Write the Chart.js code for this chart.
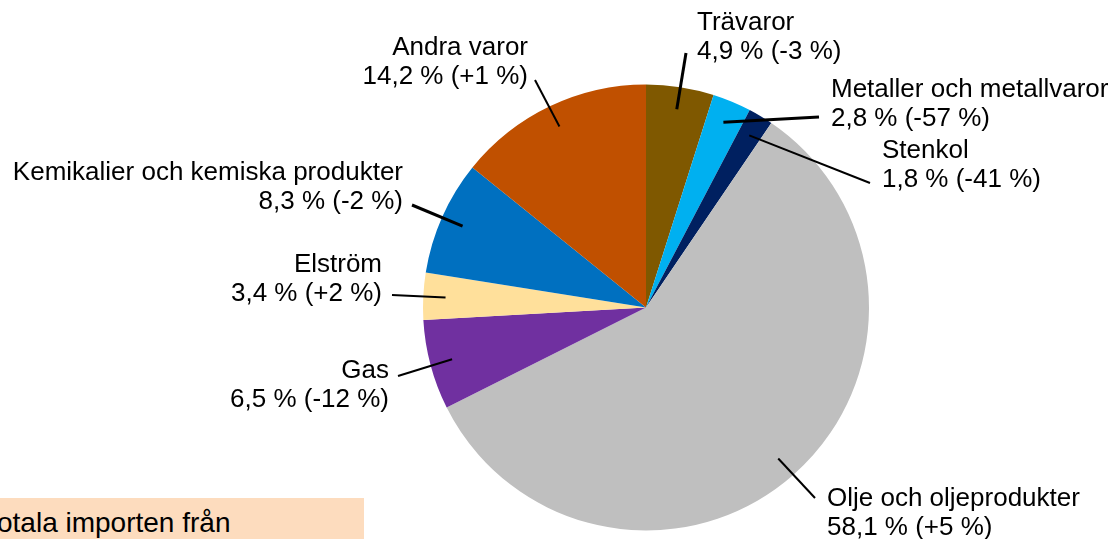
<!DOCTYPE html>
<html lang="sv">
<head>
<meta charset="utf-8">
<script src="https://cdn.jsdelivr.net/npm/chart.js@4/dist/chart.umd.min.js"></script>
<style>
  html, body { margin: 0; padding: 0; background: #fff; }
  #wrap { position: relative; width: 1109px; height: 539px; overflow: hidden; }
  #pie { position: absolute; left: 0; top: 0; }
  .note {
    position: absolute; left: 0; top: 498px; width: 364px; height: 41px;
    background: #fddcbe; overflow: hidden; white-space: nowrap;
    font: 28px "Liberation Sans", Arial, sans-serif; color: #000;
    line-height: 49px; text-indent: -17px;
  }
</style>
</head>
<body>
<div id="wrap">
  <canvas id="pie" width="1109" height="539"></canvas>
  <div class="note">Totala importen från</div>
</div>
<script>
(function () {
  "use strict";

  // Andel av importen (%) och förändring mot föregående år
  const categories = [
    "Trävaror",
    "Metaller och metallvaror",
    "Stenkol",
    "Olje och oljeprodukter",
    "Gas",
    "Elström",
    "Kemikalier och kemiska produkter",
    "Andra varor",
  ];
  const shares = [4.9, 2.8, 1.8, 58.1, 6.5, 3.4, 8.3, 14.2];
  const changes = ["-3", "-57", "-41", "+5", "-12", "+2", "-2", "+1"];
  const colors = [
    "#7f5800", "#00b0f0", "#002060", "#bfbfbf",
    "#7030a0", "#ffe09b", "#0070c0", "#c05000",
  ];

  // Etikettplacering: textankare, justering och leader-linjens yttre ände
  const labelLayout = [
    { x: 697, y: 30, align: "left", lineEnd: [686, 53], width: 3 },
    { x: 831, y: 97, align: "left", lineEnd: [819, 117], width: 3 },
    { x: 882, y: 158, align: "left", lineEnd: [870, 183], width: 2 },
    { x: 827, y: 506, align: "left", lineEnd: [815, 498], width: 2 },
    { x: 389, y: 378, align: "right", lineEnd: [398, 376], width: 2 },
    { x: 382, y: 272, align: "right", lineEnd: [392, 295], width: 2 },
    { x: 403, y: 180, align: "right", lineEnd: [412, 205], width: 3 },
    { x: 528, y: 55, align: "right", lineEnd: [535, 80], width: 2 },
  ];
  const LINE_GAP = 29;
  const FONT = '26px "Liberation Sans", Arial, sans-serif';

  function fmt(v) {
    return v.toFixed(1).replace(".", ",");
  }

  const pieLabels = {
    id: "pieLabels",
    afterDatasetsDraw(chart) {
      const ctx = chart.ctx;
      const meta = chart.getDatasetMeta(0);
      ctx.save();
      ctx.font = FONT;
      ctx.fillStyle = "#000";
      ctx.textBaseline = "alphabetic";
      meta.data.forEach((arc, i) => {
        const lay = labelLayout[i];
        const mid = (arc.startAngle + arc.endAngle) / 2;
        const r = arc.outerRadius * 0.9;
        const sx = arc.x + Math.cos(mid) * r;
        const sy = arc.y + Math.sin(mid) * r;
        ctx.strokeStyle = "#000";
        ctx.lineWidth = lay.width;
        ctx.beginPath();
        ctx.moveTo(sx, sy);
        ctx.lineTo(lay.lineEnd[0], lay.lineEnd[1]);
        ctx.stroke();

        const line2 = fmt(shares[i]) + " % (" + changes[i] + " %)";
        ctx.textAlign = lay.align;
        ctx.fillText(categories[i], lay.x, lay.y);
        ctx.fillText(line2, lay.x, lay.y + LINE_GAP);
      });
      ctx.restore();
    },
  };

  new Chart(document.getElementById("pie"), {
    type: "pie",
    data: {
      labels: categories,
      datasets: [
        {
          data: shares,
          backgroundColor: colors,
          borderWidth: 0,
        },
      ],
    },
    options: {
      responsive: false,
      maintainAspectRatio: false,
      animation: false,
      events: [],
      layout: { padding: { left: 423, right: 240, top: 84, bottom: 8 } },
      plugins: {
        legend: { display: false },
        tooltip: { enabled: false },
      },
    },
    plugins: [pieLabels],
  });
})();
</script>
</body>
</html>
